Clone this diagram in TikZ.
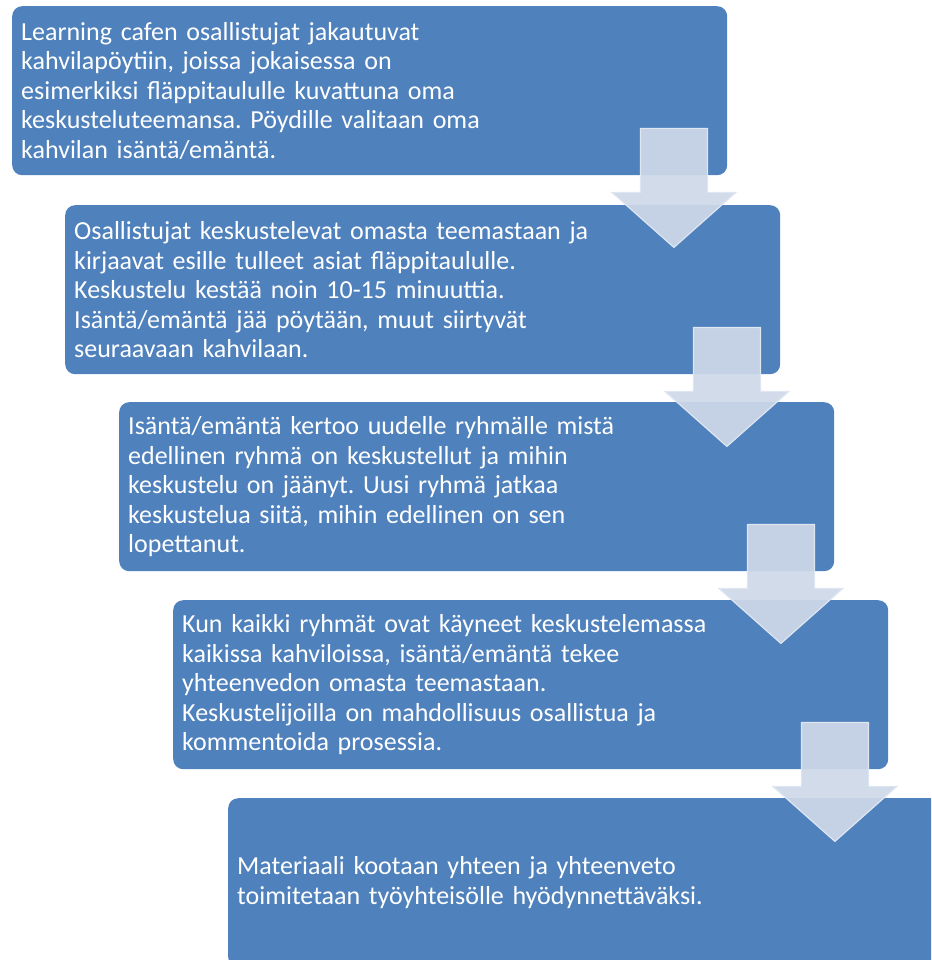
\documentclass[tikz,border=0pt]{standalone}
\usepackage{fontspec}
\setmainfont{Carlito}
\usetikzlibrary{calc}
\definecolor{boxblue}{RGB}{79,129,189}
\definecolor{arrowfill}{RGB}{206,216,232}
\definecolor{arrowline}{RGB}{222,230,241}
\frenchspacing
\begin{document}
\begin{tikzpicture}[x=1pt, y=-1pt, stage box/.style={rectangle,rounded corners=10pt,fill=boxblue,text=white,anchor=north west,minimum width=715pt,minimum height=169pt,inner xsep=9pt,inner ysep=0pt,text width=697pt,align=left,font=\fontsize{26}{29.5}\selectfont},flow arrow/.style={fill=arrowfill,fill opacity=0.93,draw=arrowline,line width=1.2pt,line join=miter}]
\clip (0,0) rectangle (931,960);
\node [stage box](b1) at (12,6) {Learning cafen osallistujat jakautuvat\\kahvilapöytiin, joissa jokaisessa on\\esimerkiksi fläppitaululle kuvattuna oma\\keskusteluteemansa. Pöydille valitaan oma\\kahvilan isäntä/emäntä.};
\node [stage box](b2) at (65,205) {Osallistujat keskustelevat omasta teemastaan ja\\kirjaavat esille tulleet asiat fläppitaululle.\\Keskustelu kestää noin 10-15 minuuttia.\\Isäntä/emäntä jää pöytään, muut siirtyvät\\seuraavaan kahvilaan.};
\node [stage box](b3) at (119,402) {Isäntä/emäntä kertoo uudelle ryhmälle mistä\\edellinen ryhmä on keskustellut ja mihin\\keskustelu on jäänyt. Uusi ryhmä jatkaa\\keskustelua siitä, mihin edellinen on sen\\lopettanut.};
\node [stage box](b4) at (173,600) {Kun kaikki ryhmät ovat käyneet keskustelemassa\\kaikissa kahviloissa, isäntä/emäntä tekee\\yhteenvedon omasta teemastaan.\\Keskustelijoilla on mahdollisuus osallistua ja\\kommentoida prosessia.};
\node [stage box](b5) at (228,798) {Materiaali kootaan yhteen ja yhteenveto\\toimitetaan työyhteisölle hyödynnettäväksi.};
% block arrows between the stages
\foreach \a in {b1,b2,b3,b4} {
  \draw [flow arrow] ($(\a.south east)+(-87,-47)$) -- ($(\a.south east)+(-20,-47)$)
    -- ($(\a.south east)+(-20,17)$) -- ($(\a.south east)+(8.5,17)$)
    -- ($(\a.south east)+(-53.5,72)$) -- ($(\a.south east)+(-115.5,17)$)
    -- ($(\a.south east)+(-87,17)$) -- cycle;
}
\end{tikzpicture}
\end{document}
